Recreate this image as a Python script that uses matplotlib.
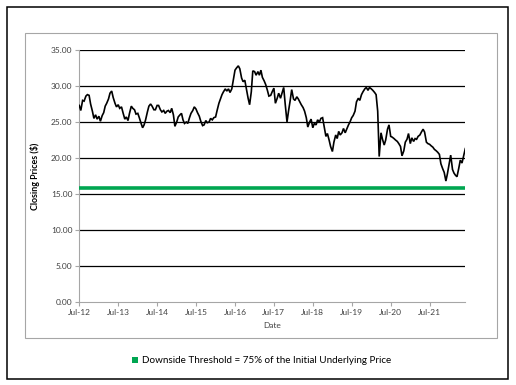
import matplotlib
matplotlib.use("Agg")
import matplotlib.pyplot as plt
import matplotlib.dates as mdates
from matplotlib.patches import Rectangle
import pandas as pd

plt.rcParams['font.family'] = ['Lato', 'DejaVu Sans']

start_date = "2012-07-01"
prices = [
    27.3, 26.6, 28.0, 27.9, 28.6, 28.8, 28.7, 27.5, 26.5, 25.5,
    26.0, 25.4, 25.8, 25.1, 25.9, 26.3, 27.2, 27.6, 28.2, 29.0,
    29.3, 28.4, 27.6, 27.1, 27.4, 26.9, 27.1, 26.3, 25.4, 25.7,
    25.2, 26.2, 27.2, 26.9, 26.7, 26.1, 26.2, 25.6, 24.8, 24.2,
    24.6, 25.3, 26.4, 27.2, 27.5, 27.2, 26.7, 26.7, 27.3, 27.3,
    26.7, 26.4, 26.6, 26.2, 26.5, 26.6, 26.3, 26.9, 26.0, 24.4,
    25.0, 25.7, 26.0, 26.2, 25.3, 24.8, 25.0, 24.8, 25.6, 26.2,
    26.6, 27.1, 26.8, 26.3, 25.8, 25.1, 24.5, 24.6, 25.2, 24.9,
    25.0, 25.5, 25.3, 25.6, 25.7, 26.6, 27.6, 28.2, 28.8, 29.2,
    29.6, 29.3, 29.6, 29.1, 29.6, 30.8, 32.2, 32.5, 32.8, 32.4,
    31.1, 30.6, 30.8, 29.7, 28.3, 27.4, 29.2, 32.1, 32.0, 31.5,
    32.0, 31.5, 32.2, 31.2, 30.7, 30.2, 29.4, 28.6, 28.7, 29.2,
    29.7, 27.6, 28.3, 29.0, 28.3, 29.0, 29.8, 27.5, 25.0, 26.5,
    28.0, 29.5, 28.2, 28.0, 28.5, 28.2, 27.8, 27.4, 27.0, 26.5,
    25.6, 24.3, 25.0, 25.4, 24.2, 24.8, 24.6, 25.3, 25.0, 25.5,
    25.6, 24.4, 23.0, 23.4, 22.5, 21.6, 20.9, 22.2, 23.2, 22.7,
    23.7, 23.2, 23.5, 24.1, 23.5, 24.0, 24.6, 25.0, 25.6, 25.9,
    26.5, 27.8, 28.3, 28.0, 28.8, 29.2, 29.6, 29.8, 29.4, 29.8,
    29.6, 29.4, 29.1, 28.8, 26.5, 20.2, 23.5, 22.6, 21.8, 22.5,
    24.0, 24.6, 23.0, 22.9, 22.7, 22.5, 22.3, 22.0, 21.6, 20.3,
    21.0, 22.2, 22.6, 23.4, 22.0, 22.8, 22.3, 22.7, 22.6, 23.0,
    23.2, 23.6, 24.0, 23.6, 22.2, 22.0, 21.9, 21.7, 21.5, 21.2,
    21.0, 20.8, 20.5, 19.2, 18.5, 18.0, 16.8, 17.8, 19.2, 20.4,
    18.4, 17.9, 17.6, 17.4, 18.6, 19.7, 19.3, 20.2, 21.3,
]
threshold = 15.80
y_ticks = [0, 5, 10, 15, 20, 25, 30, 35]
x_tick_years = list(range(2012, 2022))
legend_label = "Downside Threshold = 75% of the Initial Underlying Price"

dates = pd.date_range(start_date, periods=len(prices), freq="SMS")

W, H = 516, 385
fig = plt.figure(figsize=(W / 100, H / 100), dpi=100)
fig.patch.set_facecolor("white")

# outer and inner frames
fig.add_artist(Rectangle((6.5 / W, 1 - 378.5 / H), 501 / W, 371.8 / H,
                         transform=fig.transFigure, fill=False,
                         edgecolor="black", linewidth=1.1))
fig.add_artist(Rectangle((25 / W, 1 - 337.7 / H), 471.7 / W, 304.4 / H,
                         transform=fig.transFigure, fill=False,
                         edgecolor="#a6a6a6", linewidth=0.8))

ax = fig.add_axes([79.3 / W, 1 - 302 / H, 386 / W, 252 / H])
ax.plot(dates, prices, color="black", linewidth=1.2, zorder=3,
        solid_joinstyle="miter")
ax.plot([dates[0], dates[-1]], [threshold, threshold], color="#00A651",
        linewidth=2.6, zorder=4, solid_capstyle="butt")

ax.set_xlim(dates[0], dates[-1])
ax.set_ylim(0, 35)
ax.set_yticks(y_ticks)
ax.set_yticklabels([f"{v:.2f}" for v in y_ticks])
for v in y_ticks[1:]:
    ax.axhline(v, color="black", linewidth=0.9, zorder=2)

xt = [pd.Timestamp(f"{y}-07-01") for y in x_tick_years]
ax.set_xticks(xt)
ax.xaxis.set_major_formatter(mdates.DateFormatter("%b-%y"))

for s in ["top", "right"]:
    ax.spines[s].set_visible(False)
for s in ["left", "bottom"]:
    ax.spines[s].set_color("#a6a6a6")
    ax.spines[s].set_linewidth(0.8)
ax.tick_params(axis="both", colors="#a6a6a6", labelcolor="#404040",
               labelsize=6, length=3, width=0.8, pad=2)

ax.set_xlabel("Date", fontsize=6, color="#404040", labelpad=4)
ax.set_ylabel("Closing Prices ($)", fontsize=6.4, fontweight="bold",
              color="black", labelpad=8)

# legend
fig.add_artist(Rectangle((131.7 / W, 1 - 362.7 / H), 6 / W, 6 / H,
                         transform=fig.transFigure, facecolor="#00A651",
                         edgecolor="none"))
fig.text(141.7 / W, 1 - 360.5 / H, legend_label, fontsize=7.1,
         color="black", ha="left", va="center")

fig.savefig("out.png", dpi=100, facecolor="white")
